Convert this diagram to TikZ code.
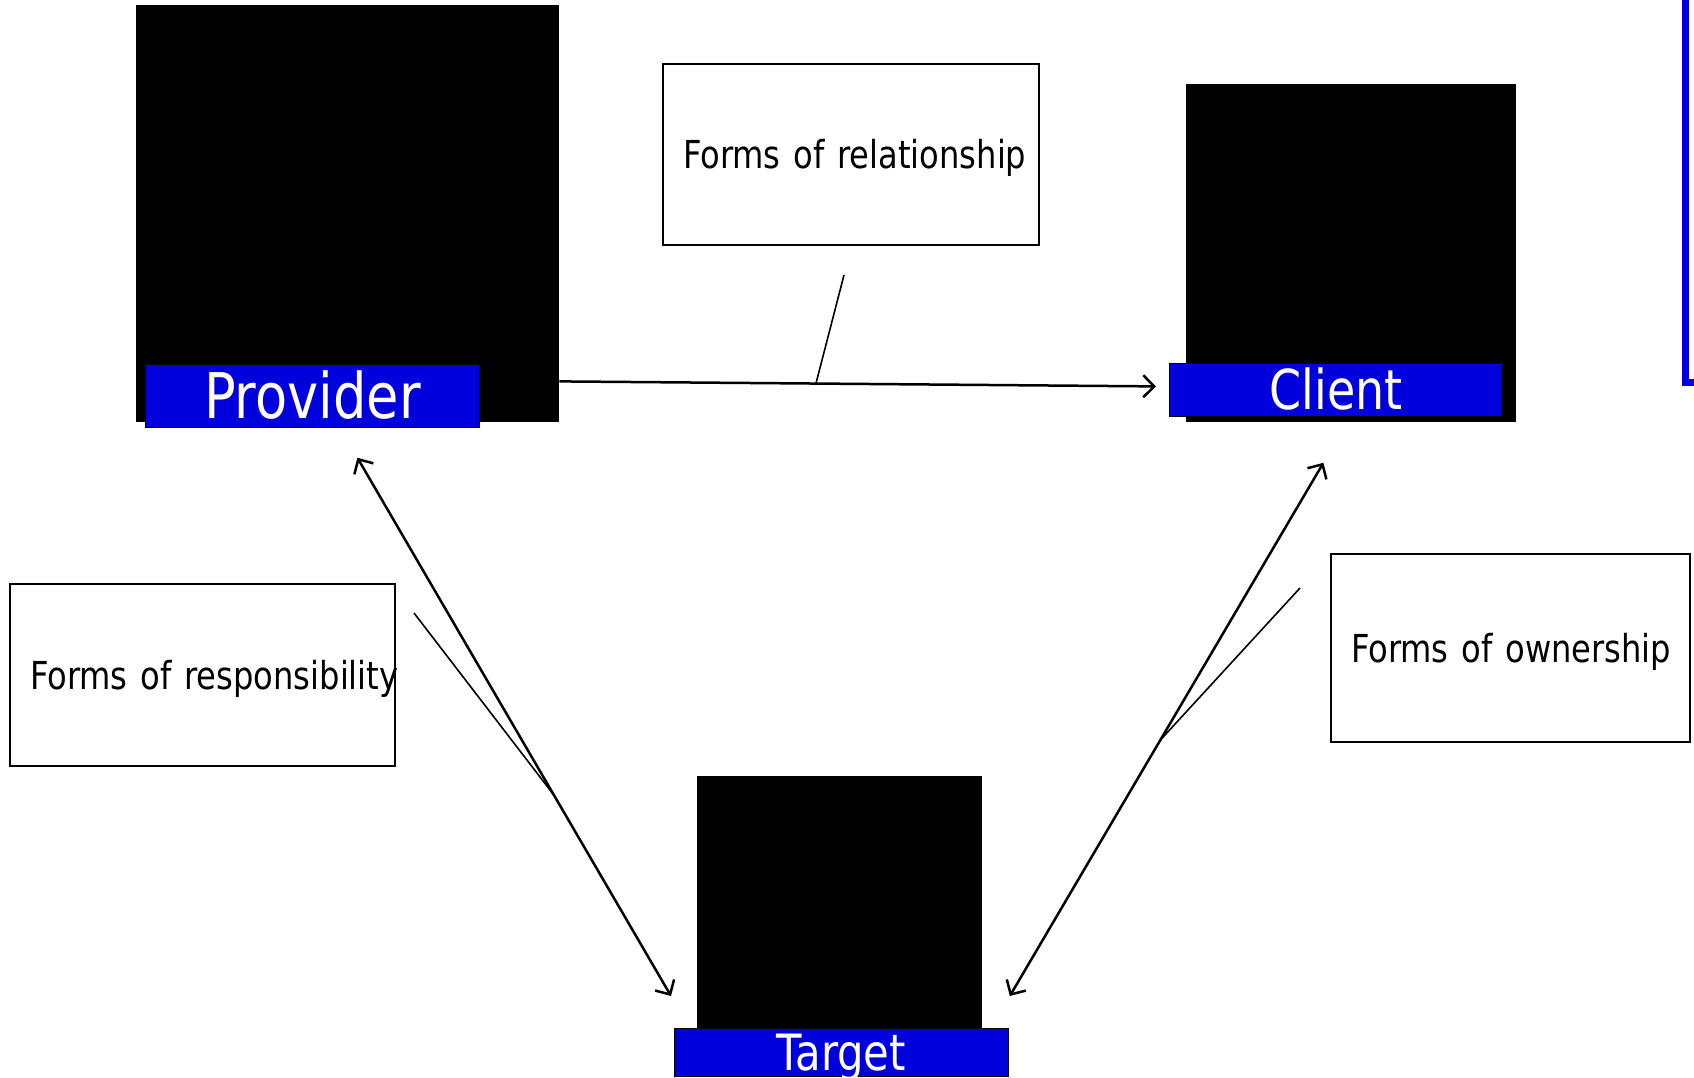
\documentclass[tikz,border=0pt]{standalone}
\usepackage{fontspec}
\setmainfont[FakeStretch=0.835]{DejaVu Sans}
\usetikzlibrary{arrows.meta}
\usetikzlibrary{calc}
\definecolor{nameblue}{RGB}{0,0,220}
\tikzset{
	actor/.style={fill=black, draw=none, anchor=north west, inner sep=0pt},
	actorname/.style={fill=nameblue, draw=black, line width=0.8pt, anchor=north west, inner sep=0pt, text=white, text depth=0pt},
	formbox/.style={draw, line width=2pt, anchor=north west, inner xsep=20pt, inner ysep=0pt, align=left, text height=28pt, text depth=0pt, font=\fontsize{38.5}{46}\selectfont},
	conn/.style={line width=2.5pt, >={Straight Barb[length=11pt,width=22pt]}},
	callout/.style={line width=1.6pt}
}

\begin{document}
\begin{tikzpicture}[x=1pt,y=-1pt]
	% page: 1694 x 1078, one unit = one pixel, y grows downwards
	\useasboundingbox (0,0) rectangle (1694,1078);
	% blue frame cut by the right edge
	\begin{scope}
		\clip (0,0) rectangle (1694,1078);
		\draw[nameblue, line width=7pt] (1685,-20) rectangle (1760,382);
	\end{scope}
	% actors
	\node[actor, minimum width=423pt, minimum height=417pt] (provider) at (136,5) {};
	\node[actor, minimum width=330pt, minimum height=338pt] (client) at (1186,84) {};
	\node[actor, minimum width=285pt, minimum height=252pt] (target) at (697,776) {};
	% name plates
	\node[actorname, minimum width=334pt, minimum height=63pt, text height=46pt, font=\fontsize{63}{70}\selectfont] (providername) at (145,364) {Provider};
	\node[actorname, minimum width=333pt, minimum height=53pt, text height=40pt, font=\fontsize{55}{62}\selectfont] (clientname) at (1169,363) {Client};
	\node[actorname, minimum width=334pt, minimum height=48pt, text height=37pt, font=\fontsize{50}{56}\selectfont] (targetname) at (674,1028) {Target};
	% forms
	\node[formbox, text width=336pt, minimum height=181pt] (relationship) at (662,63) {\mbox{Forms of relationship}};
	\node[formbox, text width=345pt, minimum height=182pt] (responsibility) at (9,583) {\mbox{Forms of responsibility}};
	\node[formbox, text width=319pt, minimum height=188pt] (ownership) at (1330,553) {\mbox{Forms of ownership}};
	% arrows between actors
	\draw[conn, ->] ($(provider.south east)+(0,-41)$) -- coordinate[pos=0.43] (relfoot) ($(clientname.west)+(-13,-3.5)$);
	\draw[conn, <->] ($(providername.south)+(45,30)$) -- coordinate[pos=0.627] (respfoot) ($(targetname.north west)+(-3,-32)$);
	\draw[conn, <->] ($(clientname.south)+(-12.5,46)$) -- coordinate[pos=0.52] (ownfoot) ($(targetname.north east)+(1,-32)$);
	% callout lines
	\draw[callout] ($(relationship.south)+(-7,29)$) -- (relfoot);
	\draw[callout] ($(responsibility.north east)+(18,30)$) -- (respfoot);
	\draw[callout] ($(ownership.north west)+(-30,35)$) -- (ownfoot);
\end{tikzpicture}
\end{document}
